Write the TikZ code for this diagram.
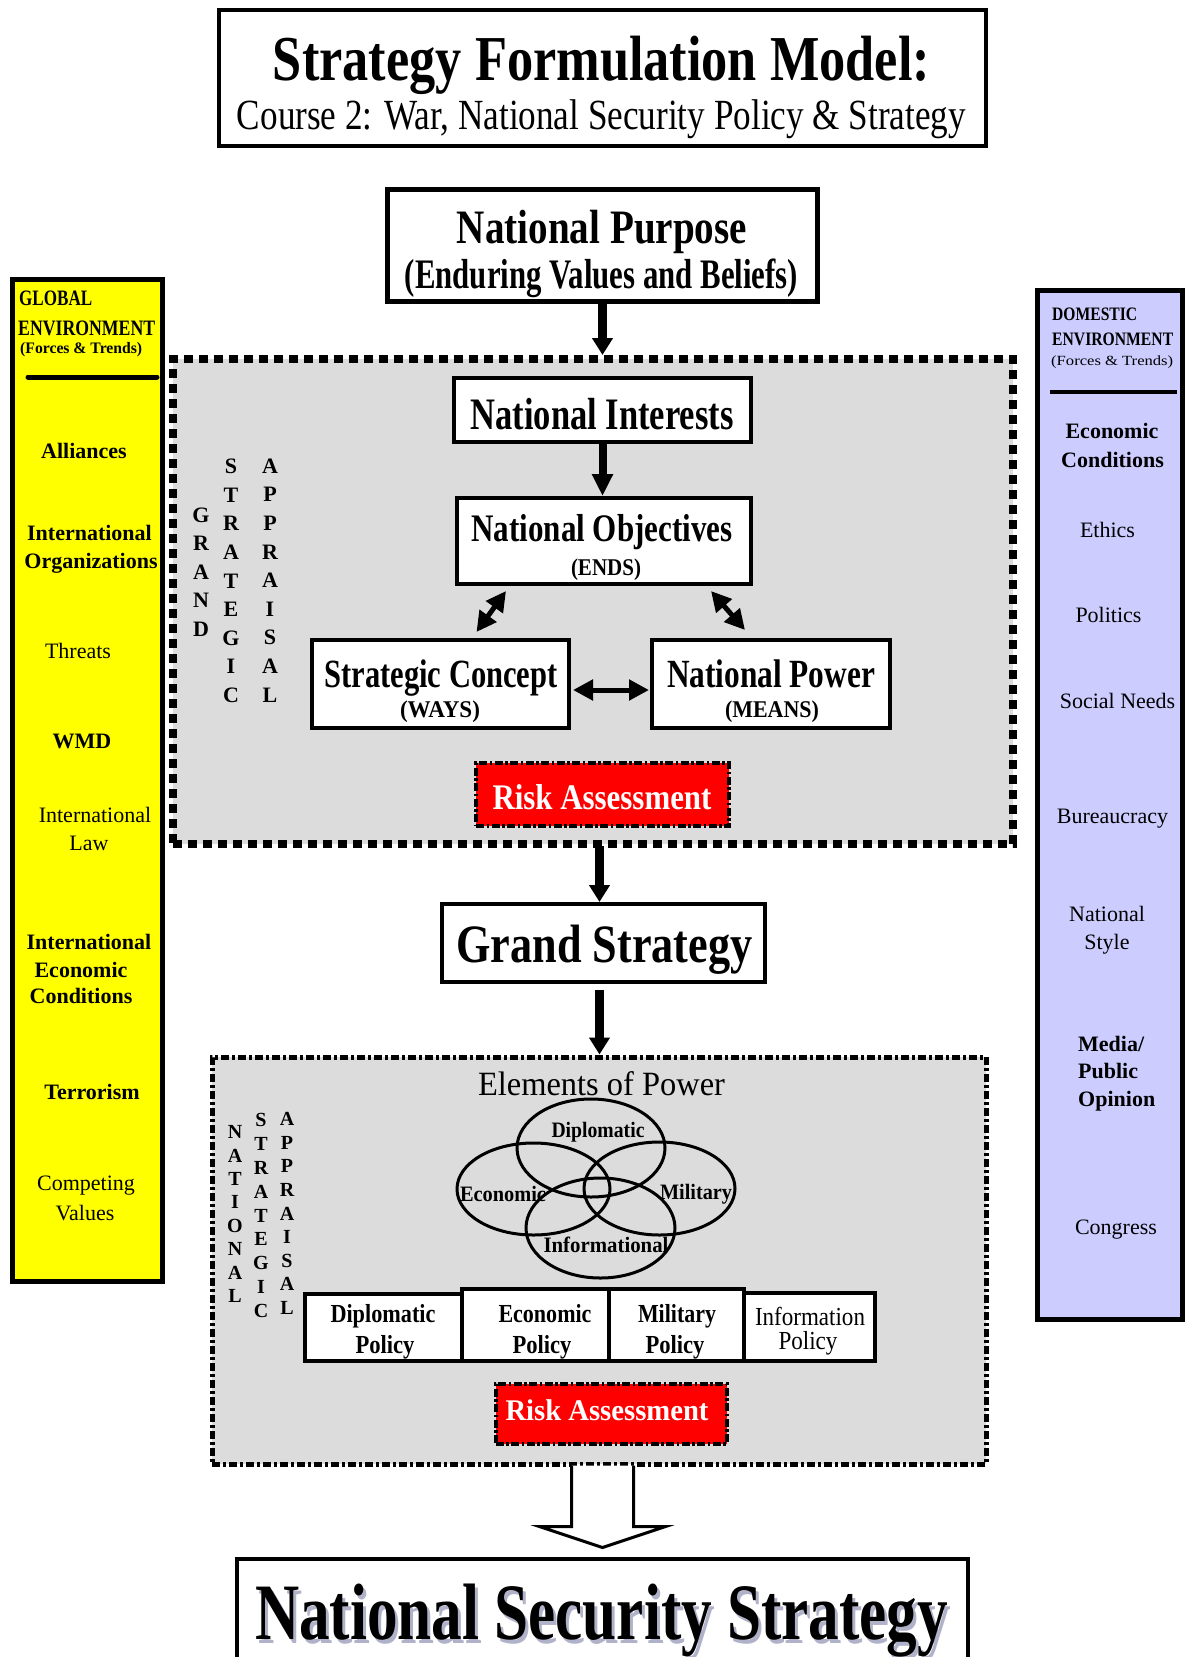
\documentclass[tikz,border=0pt]{standalone}
\usepackage{fontspec}
\setmainfont{Liberation Serif}
\usetikzlibrary{arrows.meta,calc}
\definecolor{panelyellow}{RGB}{255,255,0}
\definecolor{panelblue}{RGB}{204,204,255}
\definecolor{boxgray}{RGB}{220,220,220}
\definecolor{riskred}{RGB}{255,0,0}
\definecolor{shadowgray}{RGB}{175,178,200}
\newcommand\fw[3]{\resizebox{#1pt}{\height}{\fontsize{#2}{#2}\selectfont #3}}
\begin{document}
\begin{tikzpicture}[x=1pt,y=-1pt,
  box/.style={draw, line width=4pt, fill=white, inner sep=0pt},
  txt/.style={anchor=base, inner sep=0pt},
  txtw/.style={anchor=base west, inner sep=0pt},
  mainarr/.style={line width=9pt, -{Triangle[length=17pt,width=20pt]}},
  midarr/.style={line width=8pt, -{Triangle[length=22pt,width=20pt]}},
  dblarr/.style={line width=5pt, {Triangle[length=20pt,width=20pt]}-{Triangle[length=20pt,width=20pt]}},
  vlet/.style={align=center, inner sep=0pt},
  risk/.style={draw, line width=4pt, dash pattern=on 8pt off 2.5pt on 2.5pt off 2.5pt, fill=riskred, inner sep=0pt},
  venn/.style={line width=3pt},
  ltxt/.style={anchor=base, inner sep=0pt, font=\bfseries\fontsize{22}{22}\selectfont},
  lreg/.style={anchor=base, inner sep=0pt, font=\fontsize{22}{22}\selectfont},
  rtxt/.style={anchor=base, inner sep=0pt, font=\fontsize{22}{22}\selectfont},
  rbold/.style={anchor=base, inner sep=0pt, font=\bfseries\fontsize{22}{22}\selectfont},
  hollow/.style={line width=3pt, fill=white, line join=miter}
]
\clip (0,0) rectangle (1185,1657);
\fill[white] (0,0) rectangle (1185,1657);

% ---------- side panels ----------
\node[draw, line width=5pt, fill=panelyellow, minimum width=150pt, minimum height=1002pt, inner sep=0pt] (glob) at (87.5,780.5) {};
\node[draw, line width=5pt, fill=panelblue, minimum width=145pt, minimum height=1029pt, inner sep=0pt] (dom) at (1110,805) {};

% global environment header
\node[txtw, font=\bfseries] (gh1) at (19,305) {\fw{73}{22}{GLOBAL}};
\node[txtw, font=\bfseries] (gh2) at (18,335) {\fw{137}{22}{ENVIRONMENT}};
\node[txtw, font=\bfseries] (gh3) at (20,353) {\fw{122}{16}{(Forces \& Trends)}};
\draw[line width=5pt, line cap=round] (28,377) -- (157,377);
\node[ltxt] (g1) at (84,458) {Alliances};
\node[ltxt] (g2a) at (89.5,540) {International};
\node[ltxt] (g2b) at (91,568) {Organizations};
\node[lreg] (g3) at (78,658) {Threats};
\node[ltxt] (g4) at (82,748) {WMD};
\node[lreg] (g5a) at (95,822) {International};
\node[lreg] (g5b) at (89,850) {Law};
\node[ltxt] (g6a) at (89,949) {International};
\node[ltxt] (g6b) at (81,977) {Economic};
\node[ltxt] (g6c) at (81,1003) {Conditions};
\node[ltxt] (g7) at (92,1099) {Terrorism};
\node[lreg] (g8a) at (86,1190) {Competing};
\node[lreg] (g8b) at (85,1220) {Values};

% domestic environment header
\node[txtw, font=\bfseries] (dh1) at (1052,320) {\fw{85}{19}{DOMESTIC}};
\node[txtw, font=\bfseries] (dh2) at (1052,345) {\fw{121}{19}{ENVIRONMENT}};
\node[txtw] (dh3) at (1051,365) {\fw{122}{14}{(Forces \& Trends)}};
\draw[line width=4pt] (1050,392) -- (1177,392);
\node[rbold] (d1a) at (1112,438) {Economic};
\node[rbold] (d1b) at (1112.5,467) {Conditions};
\node[rtxt] (d2) at (1107.5,537) {Ethics};
\node[rtxt] (d3) at (1108.5,622) {Politics};
\node[rtxt] (d4) at (1117.5,708) {Social Needs};
\node[rtxt] (d5) at (1112.5,823) {Bureaucracy};
\node[rtxt] (d6a) at (1107,921) {National};
\node[rtxt] (d6b) at (1107,949) {Style};
\node[txtw, font=\bfseries\fontsize{22}{22}\selectfont] (d7a) at (1078,1051) {Media/};
\node[txtw, font=\bfseries\fontsize{22}{22}\selectfont] (d7b) at (1078,1078) {Public};
\node[txtw, font=\bfseries\fontsize{22}{22}\selectfont] (d7c) at (1078,1106) {Opinion};
\node[rtxt] (d8) at (1116,1234) {Congress};

% ---------- title ----------
\node[box, minimum width=767pt, minimum height=136pt] (title) at (602.5,78) {};
\node[txt, font=\bfseries] (t1) at (601.5,80) {\fw{657}{64}{Strategy Formulation Model:}};
\node[txt] (t2) at (601.5,129) {\fw{729}{43}{Course 2: War, National Security Policy \& Strategy}};

% ---------- national purpose ----------
\node[box, line width=5pt, minimum width=430pt, minimum height=112pt] (np) at (602.5,245.5) {};
\node[txt, font=\bfseries] (npt1) at (602,243) {\fw{290}{48}{National Purpose}};
\node[txt, font=\bfseries] (npt2) at (601.5,288) {\fw{393}{42}{(Enduring Values and Beliefs)}};

% ---------- grand strategic appraisal box ----------
\node[draw, line width=8pt, dash pattern=on 9pt off 6pt, fill=boxgray, minimum width=840pt, minimum height=485pt, inner sep=0pt] (gsa) at (593,601.5) {};

\node[vlet, font=\bfseries\fontsize{22}{28.6}\selectfont] (vg1) at (201,572) {G\\R\\A\\N\\D};
\node[vlet, font=\bfseries\fontsize{22}{28.6}\selectfont] (vg2) at (231,581) {S\\T\\R\\A\\T\\E\\G\\I\\C};
\node[vlet, font=\bfseries\fontsize{22}{28.6}\selectfont] (vg3) at (270,580.5) {A\\P\\P\\R\\A\\I\\S\\A\\L};

\node[box, minimum width=297pt, minimum height=64pt] (ni) at (602.5,410) {};
\node[txt, font=\bfseries] (nit) at (602,429) {\fw{263}{45}{National Interests}};

\node[box, minimum width=294pt, minimum height=86pt] (no) at (604,541) {};
\node[txt, font=\bfseries] (not1) at (602,541) {\fw{261}{39}{National Objectives}};
\node[txt, font=\bfseries] (not2) at (606,575) {\fw{70}{24}{(ENDS)}};

\node[box, minimum width=257pt, minimum height=88pt] (sc) at (440.5,684) {};
\node[txt, font=\bfseries] (sct1) at (441,687) {\fw{233}{40}{Strategic Concept}};
\node[txt, font=\bfseries] (sct2) at (440,717) {\fw{80}{24}{(WAYS)}};

\node[box, minimum width=238pt, minimum height=88pt] (npow) at (771,684) {};
\node[txt, font=\bfseries] (npowt1) at (771,687) {\fw{208}{40}{National Power}};
\node[txt, font=\bfseries] (npowt2) at (772,717) {\fw{94}{24}{(MEANS)}};

\node[risk, minimum width=253pt, minimum height=63pt] (risk1) at (602.5,794.5) {};
\node[txt, font=\bfseries, text=white] (risk1t) at (602,809) {\fw{219}{36}{Risk Assessment}};

% ---------- grand strategy ----------
\node[box, minimum width=323pt, minimum height=78pt] (gs) at (603.5,943) {};
\node[txt, font=\bfseries] (gst) at (604.5,962) {\fw{296}{54}{Grand Strategy}};

% ---------- national strategic appraisal box ----------
\node[draw, line width=5pt, dash pattern=on 8pt off 3pt on 3pt off 3pt, fill=boxgray, minimum width=774pt, minimum height=407pt, inner sep=0pt] (nsa) at (599,1260.5) {};

\node[txt] (eop) at (601.5,1095) {\fw{247}{34}{Elements of Power}};

\draw[venn] (591,1148) ellipse [x radius=74pt, y radius=49pt];
\draw[venn] (533.5,1189) ellipse [x radius=76.5pt, y radius=46pt];
\draw[venn] (659.5,1188.5) ellipse [x radius=75.5pt, y radius=46.5pt];
\draw[venn] (600.5,1228) ellipse [x radius=74.5pt, y radius=50pt];
\node[txt, font=\bfseries] (vd) at (598,1137) {\fw{93}{22}{Diplomatic}};
\node[txt, font=\bfseries] (ve) at (503,1201) {\fw{86}{22}{Economic}};
\node[txt, font=\bfseries] (vm) at (696,1199) {\fw{72}{22}{Military}};
\node[txt, font=\bfseries] (vi) at (606,1252) {\fw{125}{22}{Informational}};

\node[vlet, font=\bfseries\fontsize{20}{23.4}\selectfont] (vn1) at (235,1214) {N\\A\\T\\I\\O\\N\\A\\L};
\node[vlet, font=\bfseries\fontsize{20}{23.9}\selectfont] (vn2) at (261,1215.5) {S\\T\\R\\A\\T\\E\\G\\I\\C};
\node[vlet, font=\bfseries\fontsize{20}{23.6}\selectfont] (vn3) at (287,1213.5) {A\\P\\P\\R\\A\\I\\S\\A\\L};

\node[box, minimum width=157pt, minimum height=67pt] (dp) at (383.5,1327.5) {};
\node[box, minimum width=147pt, minimum height=72pt] (ep) at (535.5,1325) {};
\node[box, minimum width=135pt, minimum height=72pt] (mp) at (676.5,1325) {};
\node[box, minimum width=131pt, minimum height=68pt] (ip) at (809.5,1327) {};
\node[txt, font=\bfseries] (dpt1) at (383,1322) {\fw{105}{26}{Diplomatic}};
\node[txt, font=\bfseries] (dpt2) at (385,1353) {\fw{59}{26}{Policy}};
\node[txt, font=\bfseries] (ept1) at (545,1322) {\fw{93}{26}{Economic}};
\node[txt, font=\bfseries] (ept2) at (542,1353) {\fw{59}{26}{Policy}};
\node[txt, font=\bfseries] (mpt1) at (677,1322) {\fw{78}{26}{Military}};
\node[txt, font=\bfseries] (mpt2) at (675,1353) {\fw{59}{26}{Policy}};
\node[txt] (ipt1) at (810,1325) {\fw{110}{26}{Information}};
\node[txt] (ipt2) at (808,1349) {\fw{59}{26}{Policy}};

\node[risk, minimum width=231pt, minimum height=60pt] (risk2) at (611,1413.5) {};
\node[txt, font=\bfseries, text=white] (risk2t) at (607,1420) {\fw{203}{30}{Risk Assessment}};

% ---------- national security strategy ----------
\node[box, minimum width=731pt, minimum height=125pt] (nss) at (602.5,1621.5) {};
\node[txt, font=\bfseries] (nsst) at (601.5,1639) {\fw{693}{80}{\rlap{\kern4pt\raisebox{-4pt}{\color{shadowgray}National Security Strategy}}National Security Strategy}};

% ---------- connectors ----------
\draw[mainarr] (np.south) -- (np.south |- gsa.north);
\draw[midarr] (ni.south) -- (ni.south |- no.north);
\draw[dblarr] ($(no.south)+(-98,5)$) -- ($(sc.north)+(36,-6)$);
\draw[dblarr] ($(no.south)+(107,5)$) -- ($(npow.north)+(-26,-8)$);
\draw[dblarr] ($(sc.east)+(2,6)$) -- ($(npow.west)+(-1,6)$);
\draw[mainarr] ($(gs.north |- gsa.south)+(-4,-2)$) -- ($(gs.north)+(-4,0)$);
\draw[mainarr] ($(gs.south)+(-4,6)$) -- ($(gs.south |- nsa.north)+(-4,0)$);
\coordinate (ha) at ($(nss.north |- nsa.south)+(0,-1)$);
\draw[hollow] ($(ha)+(-31,0)$) -- ($(ha)+(-31,61)$) -- ($(ha)+(-63,61)$) -- ($(ha)+(0,82)$) -- ($(ha)+(63,61)$) -- ($(ha)+(31,61)$) -- ($(ha)+(31,0)$);
\end{tikzpicture}
\end{document}
